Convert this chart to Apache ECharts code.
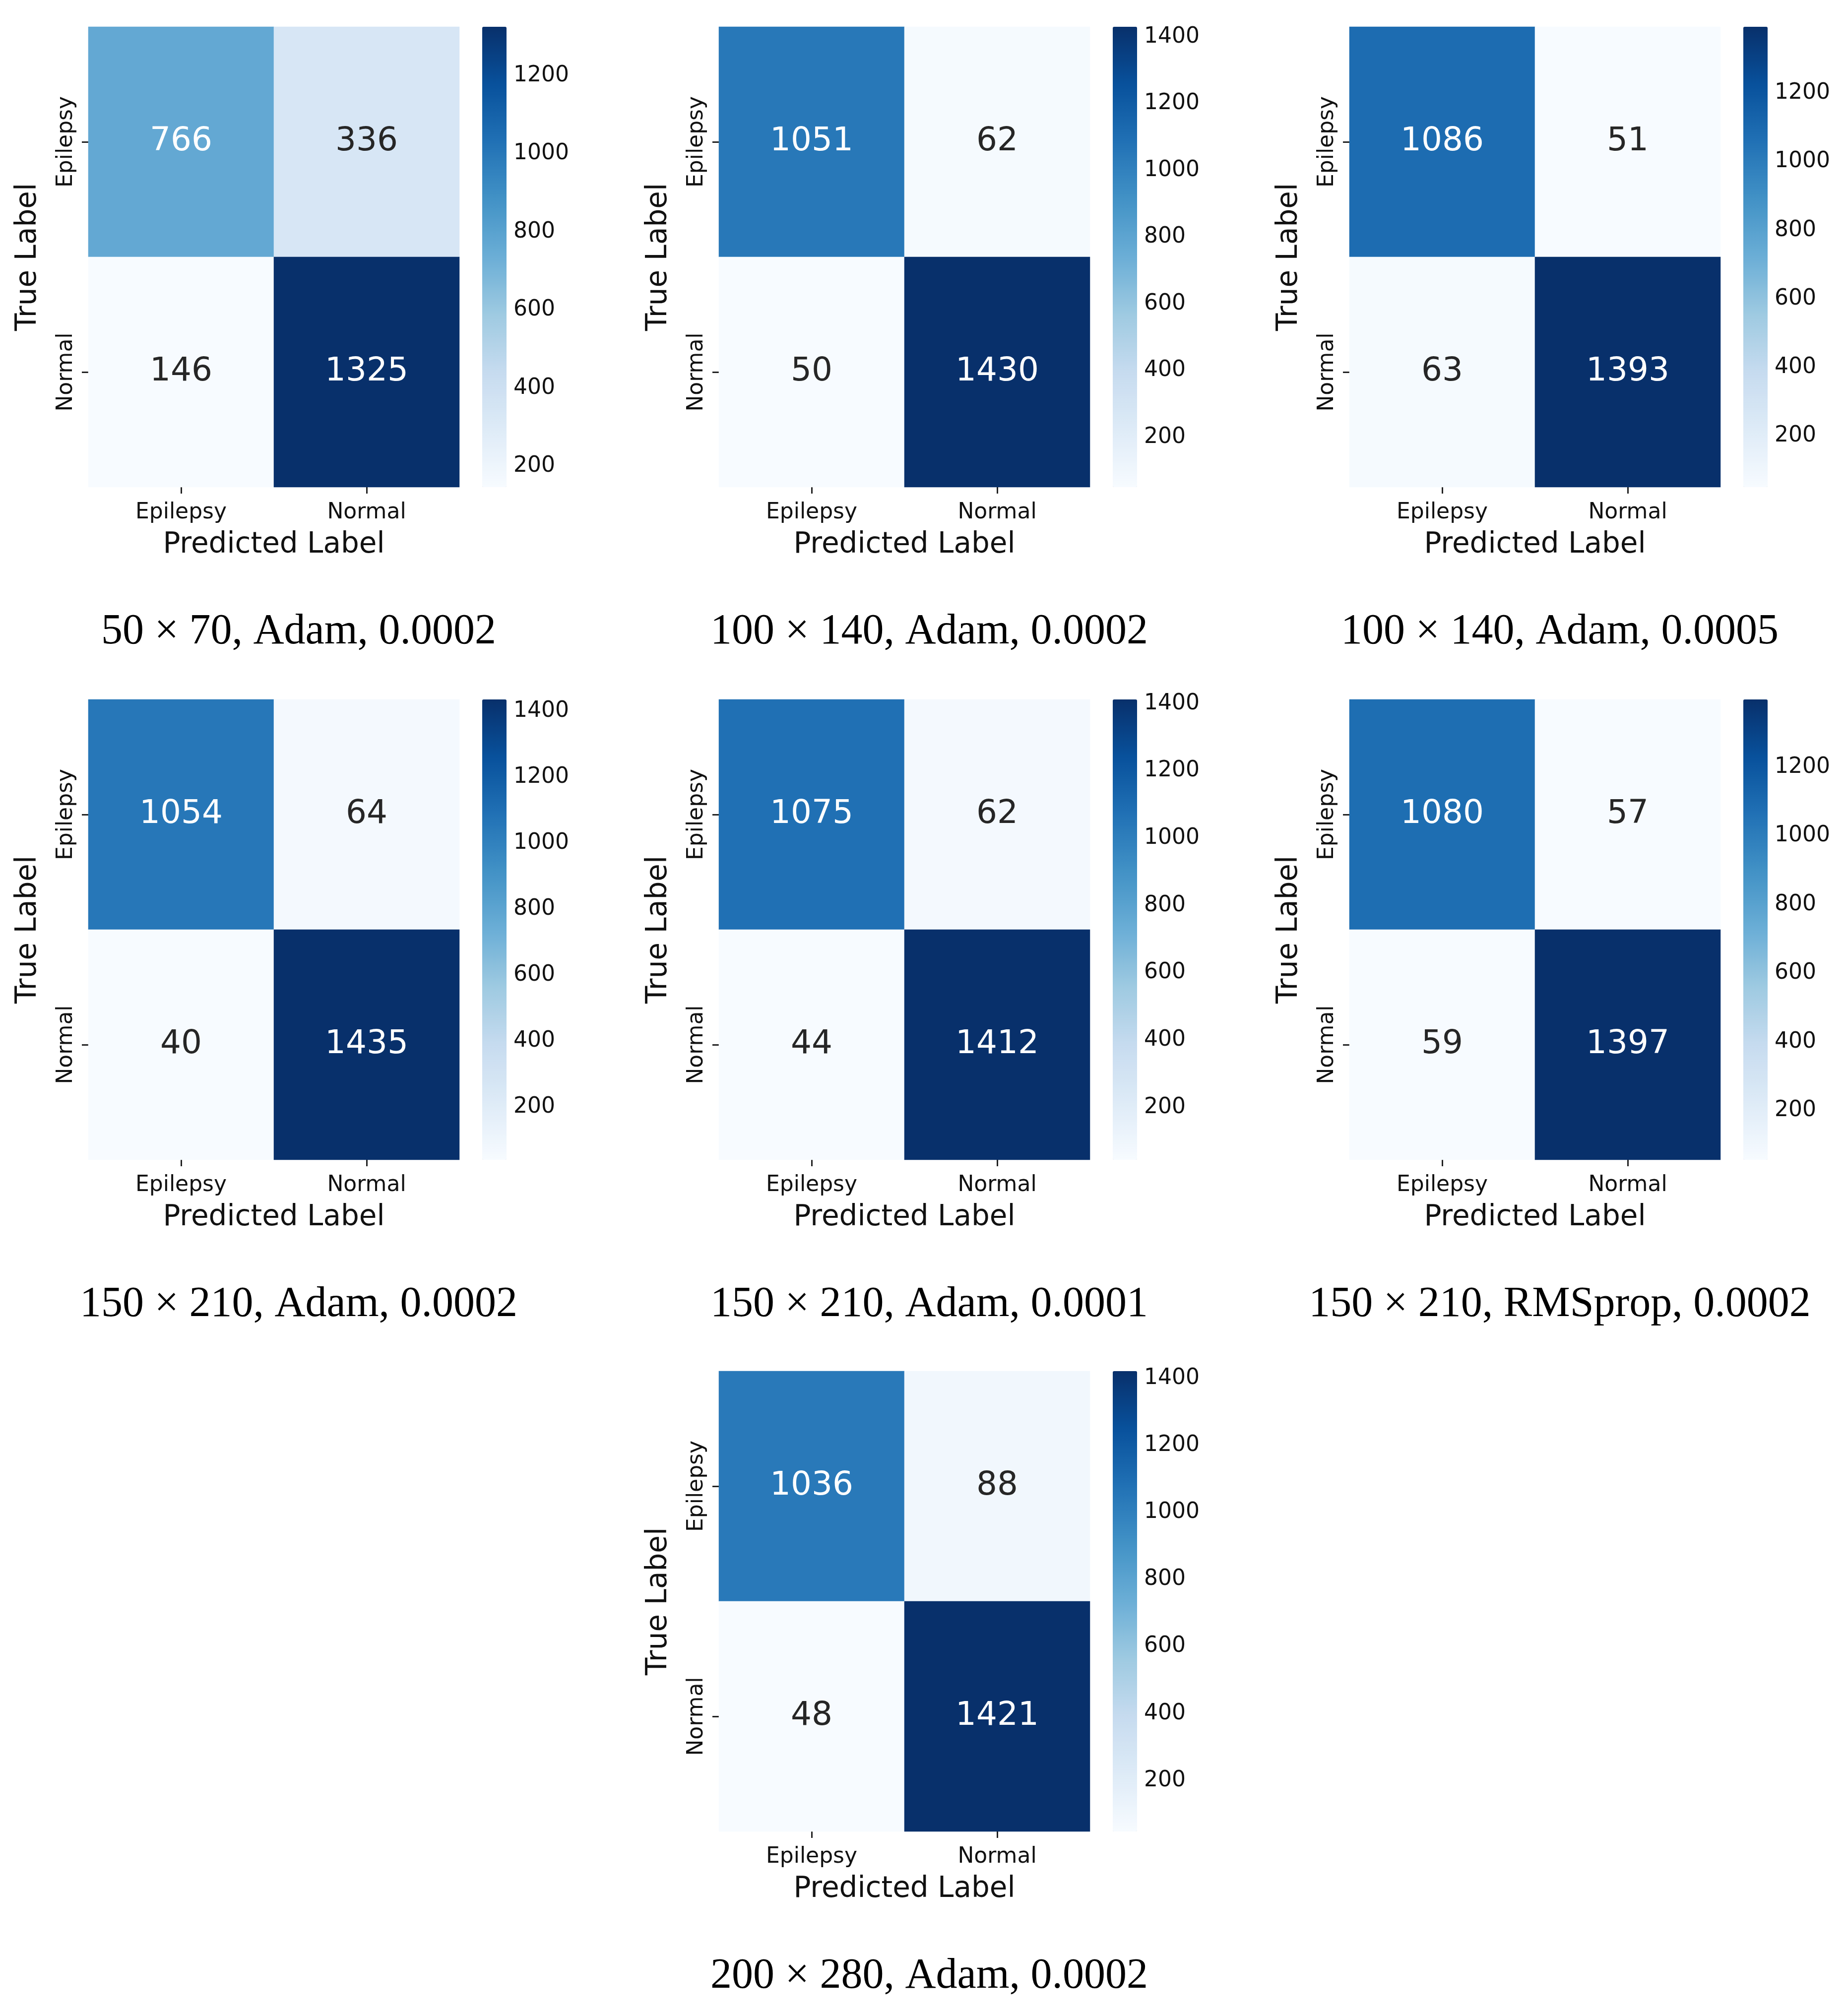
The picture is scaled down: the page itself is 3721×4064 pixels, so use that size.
<!DOCTYPE html>
<html>
<head>
<meta charset="utf-8">
<script src="https://cdn.jsdelivr.net/npm/echarts@6/dist/echarts.min.js"></script>
<style>
  html, body { margin: 0; padding: 0; background: #fff; }
  #chart { width: 3721px; height: 4064px; }
</style>
</head>
<body>
<div id="chart"></div>
<script>
// class names on both axes
const classes = ["Epilepsy", "Normal"];

// confusion matrices, rows = true label, cols = predicted label
const cm50x70Adam2 = [[766, 336], [146, 1325]];
const cm100x140Adam2 = [[1051, 62], [50, 1430]];
const cm100x140Adam5 = [[1086, 51], [63, 1393]];
const cm150x210Adam2 = [[1054, 64], [40, 1435]];
const cm150x210Adam1 = [[1075, 62], [44, 1412]];
const cm150x210Rms2 = [[1080, 57], [59, 1397]];
const cm200x280Adam2 = [[1036, 88], [48, 1421]];

const panelTitles = [
  "50 × 70, Adam, 0.0002",
  "100 × 140, Adam, 0.0002",
  "100 × 140, Adam, 0.0005",
  "150 × 210, Adam, 0.0002",
  "150 × 210, Adam, 0.0001",
  "150 × 210, RMSprop, 0.0002",
  "200 × 280, Adam, 0.0002",
];
const matrices = [
  cm50x70Adam2, cm100x140Adam2, cm100x140Adam5,
  cm150x210Adam2, cm150x210Adam1, cm150x210Rms2, cm200x280Adam2,
];

// matplotlib "Blues"
const blues = ["#f7fbff", "#deebf7", "#c6dbef", "#9ecae1", "#6baed6",
  "#4292c6", "#2171b5", "#08519c", "#08306b"];

// layout (pixels)
const colX = [178, 1449, 2720];
const rowY = [54, 1410, 2764];
const slots = [[0, 0], [1, 0], [2, 0], [0, 1], [1, 1], [2, 1], [1, 2]];
const HW = 748, HH = 928, CB_DX = 794, CB_W = 49;

const sans = "DejaVu Sans";
const grids = [], xAxes = [], yAxes = [], series = [], visualMaps = [], titles = [];

matrices.forEach((m, i) => {
  const [c, r] = slots[i];
  const left = colX[c], top = rowY[r];
  const flat = m.flat();
  const vmin = Math.min(...flat), vmax = Math.max(...flat);

  // heatmap grid
  const g = grids.length;
  grids.push({ left: left, top: top, width: HW, height: HH });
  xAxes.push({
    gridIndex: g, type: "category", data: classes,
    name: "Predicted Label", nameLocation: "middle", nameGap: 88,
    nameTextStyle: { fontFamily: sans, fontSize: 58, color: "#111" },
    axisLine: { show: false },
    axisTick: { show: true, alignWithLabel: true, length: 13, lineStyle: { color: "#222", width: 3 } },
    axisLabel: { fontFamily: sans, fontSize: 44, color: "#111", margin: 30 },
    splitLine: { show: false }, splitArea: { show: false },
  });
  yAxes.push({
    gridIndex: g, type: "category", data: classes, inverse: true,
    name: "True Label", nameLocation: "middle", nameGap: 92,
    nameTextStyle: { fontFamily: sans, fontSize: 58, color: "#111" },
    axisLine: { show: false },
    axisTick: { show: true, alignWithLabel: true, length: 13, lineStyle: { color: "#222", width: 3 } },
    axisLabel: { fontFamily: sans, fontSize: 44, color: "#111", rotate: 90, margin: 22 },
    splitLine: { show: false }, splitArea: { show: false },
  });
  const data = [];
  m.forEach((row, yi) => row.forEach((v, xi) => {
    const t = (v - vmin) / (vmax - vmin);
    data.push({ value: [xi, yi, v], label: { color: t > 0.45 ? "#ffffff" : "#262626" } });
  }));
  series.push({
    type: "heatmap", xAxisIndex: g, yAxisIndex: g, data: data,
    label: { show: true, fontFamily: sans, fontSize: 66, formatter: (p) => String(p.value[2]) },
    itemStyle: { borderWidth: 0 },
    emphasis: { disabled: true },
  });
  visualMaps.push({
    type: "continuous", seriesIndex: series.length - 1, dimension: 2,
    min: vmin, max: vmax, calculable: false, hoverLink: false,
    orient: "vertical", left: left + CB_DX, top: top, padding: 0,
    itemWidth: CB_W, itemHeight: HH,
    inRange: { color: blues },
  });

  // colorbar tick axis
  const cg = grids.length;
  grids.push({ left: left + CB_DX, top: top, width: CB_W, height: HH });
  xAxes.push({ gridIndex: cg, type: "value", show: false, min: 0, max: 1 });
  yAxes.push({
    gridIndex: cg, type: "value", position: "right",
    min: vmin, max: vmax, splitNumber: Math.round((vmax - vmin) / 200),
    minInterval: 200, maxInterval: 200,
    axisLine: { show: false },
    axisTick: { show: true, length: 14, lineStyle: { color: "#222", width: 3 } },
    axisLabel: {
      fontFamily: sans, fontSize: 44, color: "#111", margin: 14,
      showMinLabel: false, showMaxLabel: false,
      formatter: (v) => (v % 200 === 0 ? String(v) : ""),
    },
    splitLine: { show: false },
  });

  titles.push({
    text: panelTitles[i], left: left + 419, top: top + 1172, textAlign: "center",
    textStyle: { fontFamily: "Liberation Serif", fontSize: 86, fontWeight: "normal", color: "#000" },
  });
});

const chart = echarts.init(document.getElementById("chart"), null, { renderer: "canvas" });
chart.setOption({
  backgroundColor: "#ffffff",
  animation: false,
  title: titles,
  grid: grids,
  xAxis: xAxes,
  yAxis: yAxes,
  visualMap: visualMaps,
  series: series,
});
</script>
</body>
</html>
